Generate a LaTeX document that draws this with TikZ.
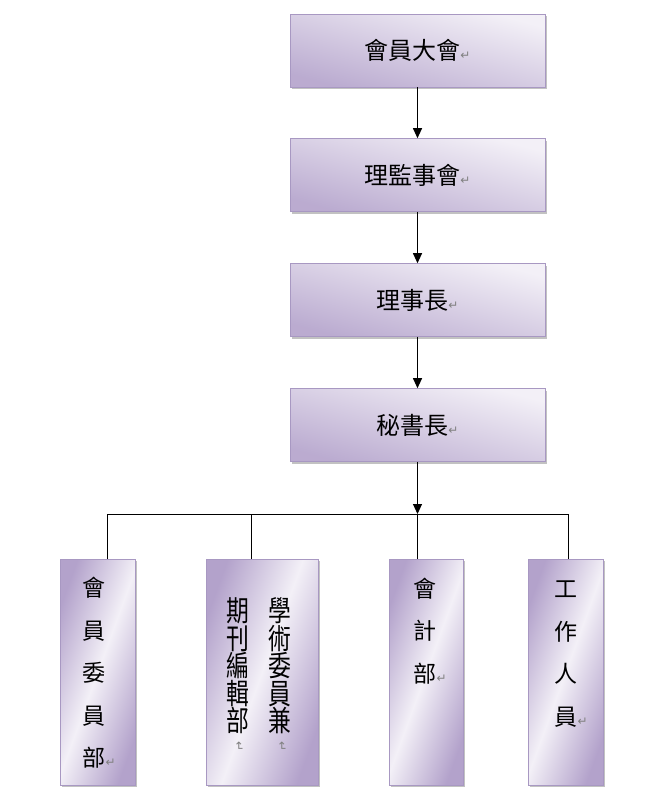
\documentclass[tikz,border=0pt]{standalone}
\usepackage{fontspec}
\setmainfont{Noto Sans CJK TC}
\newfontfamily\symfont{DejaVu Sans}
\usetikzlibrary{arrows.meta,shadows}
\definecolor{lavborder}{HTML}{A898C2}
\definecolor{lavlight}{HTML}{F3F0F7}
\definecolor{lavmid}{HTML}{DCD3E8}
\definecolor{lavdark}{HTML}{B3A2CB}
\definecolor{shadowgray}{HTML}{9A9A9A}
\newcommand{\rmark}{{\symfont\fontsize{12}{12}\selectfont\color{gray}↵}}
\newcommand{\vmark}{\rotatebox[origin=c]{-90}{\rmark}}
\newcommand{\tall}[1]{\scalebox{0.95}[1.2]{#1}}
\tikzset{
  hbox/.style={draw=lavborder, line width=0.6pt, inner sep=0pt,
    minimum width=255pt, minimum height=73pt,
    top color=lavlight, bottom color=lavdark!90, shading angle=-15,
    drop shadow={shadow xshift=2pt, shadow yshift=-2pt, fill=shadowgray, opacity=0.6},
    font=\fontsize{24}{28}\selectfont},
  vbox/.style={draw=lavborder, line width=0.6pt, inner sep=0pt,
    minimum height=226pt,
    left color=lavdark, right color=lavdark, middle color=lavlight, shading angle=70,
    drop shadow={shadow xshift=2pt, shadow yshift=-2pt, fill=shadowgray, opacity=0.6}},
  vtext/.style={inner sep=0pt, align=center, font=\fontsize{23}{42.5}\selectfont},
  ctext/.style={inner sep=0pt, align=center, font=\fontsize{24}{27.5}\selectfont},
  arr/.style={line width=1pt, -{Triangle[width=9pt,length=10pt]}},
  conn/.style={line width=1pt}
}
\begin{document}
\begin{tikzpicture}[x=1pt,y=-1pt]
\useasboundingbox (0,0) rectangle (656,798);
% top column
\node[hbox] (b1) at (417.5,50.5) {會員大會\rmark};
\node[hbox] (b2) at (417.5,175) {理監事會\rmark};
\node[hbox] (b3) at (417.5,300) {理事長\rmark};
\node[hbox] (b4) at (417.5,425) {秘書長\rmark};
% bottom boxes
\node[vbox, minimum width=75pt] (c1) at (97.5,672) {};
\node[vbox, minimum width=112pt] (c2) at (262,672) {};
\node[vbox, minimum width=74pt] (c3) at (426,672) {};
\node[vbox, minimum width=75pt] (c4) at (565.5,672) {};
% texts in bottom boxes
\node[vtext] (t1) at (94,673) {會\\員\\委\\員\\部\rlap{\rmark}};
\node[ctext] (t2a) at (280,666) {\tall{學}\\\tall{術}\\\tall{委}\\\tall{員}\\\tall{兼}};
\node[ctext] (t2b) at (238,666) {\tall{期}\\\tall{刊}\\\tall{編}\\\tall{輯}\\\tall{部}};
\node[inner sep=0pt] (m2a) at (282,747) {\vmark};
\node[inner sep=0pt] (m2b) at (239,747) {\vmark};
\node[vtext] (t3) at (425,631) {會\\計\\部\rlap{\rmark}};
\node[vtext] (t4) at (566,654) {工\\作\\人\\員\rlap{\rmark}};
% connectors
\coordinate (j) at (417.5,514);
\coordinate (h1) at (107,514);
\coordinate (h2) at (251,514);
\coordinate (h4) at (568,514);
\draw[arr] (b1) -- (b2);
\draw[arr] (b2) -- (b3);
\draw[arr] (b3) -- (b4);
\draw[arr] (b4.south) -- (j);
\draw[conn] (h1 |- c1.north) -- (h1) -- (h4) -- (h4 |- c4.north);
\draw[conn] (h2) -- (h2 |- c2.north);
\draw[conn] (j) -- (j |- c3.north);
\end{tikzpicture}
\end{document}
